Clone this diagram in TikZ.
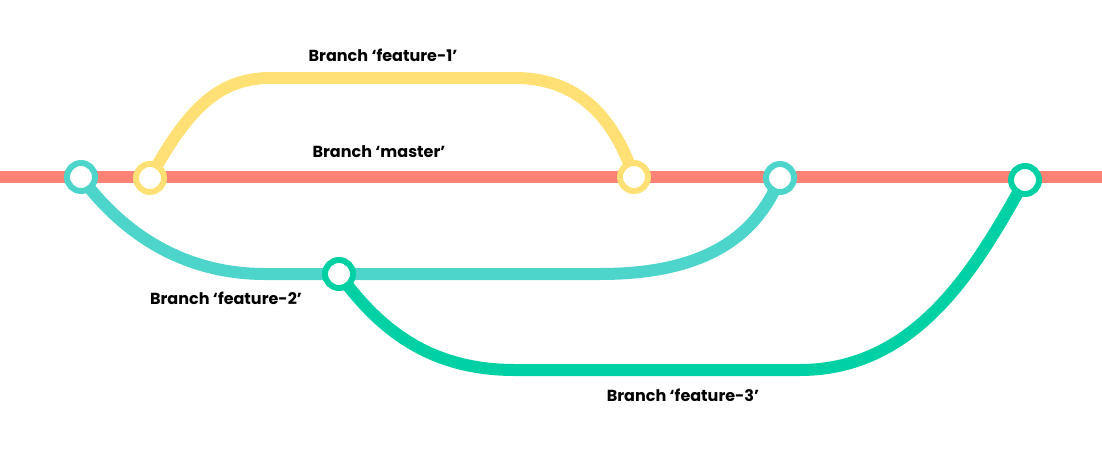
\documentclass[tikz,border=0pt]{standalone}
\usepackage{fontspec}
\setmainfont{Poppins}
\usetikzlibrary{backgrounds}
\definecolor{GitMaster}{HTML}{FC8276}
\definecolor{GitYellow}{HTML}{FFE074}
\definecolor{GitTeal}{HTML}{4DD4CB}
\definecolor{GitGreen}{HTML}{00D1A4}

\begin{document}
\begin{tikzpicture}[
          x=1pt,y=-1pt,
          branch/.style={line width=12pt},
          commit/.style={circle,draw,fill=white,line width=6pt,minimum size=28pt,inner sep=0pt},
          blabel/.style={font=\fontsize{16}{18}\selectfont\bfseries}
        ]
        \path[use as bounding box] (0,0) rectangle (1102,450);
        \coordinate (mstart) at (0,177);
        \coordinate (mend) at (1102,177);

        \node[commit,draw=GitTeal] (c1) at (81,177) {};
        \node[commit,draw=GitYellow] (c2) at (150,178) {};
        \node[commit,draw=GitYellow] (c3) at (634,177) {};
        \node[commit,draw=GitTeal] (c4) at (780,178) {};
        \node[commit,draw=GitGreen] (c5) at (1025,180) {};
        \node[commit,draw=GitGreen] (c6) at (339,274) {};

        \begin{scope}[on background layer]
        \draw[branch,GitMaster] (mstart) -- (mend);
        \draw[branch,GitYellow] (c2.center) .. controls (185,115) and (215,78) .. (270,78)
          -- (515,78) .. controls (580,78) and (615,120) .. (c3.center);
        \draw[branch,GitTeal] (c1.center) .. controls (120,230) and (180,274) .. (265,274)
          -- (600,274) .. controls (700,274) and (755,240) .. (c4.center);
        \draw[branch,GitGreen] (c6.center) .. controls (380,330) and (430,370) .. (515,370)
          -- (800,370) .. controls (920,370) and (980,260) .. (c5.center);
        \end{scope}

        \node[blabel] (lf1) at (383,55) {Branch ‘feature-1’};
        \node[blabel] (lmaster) at (379,152) {Branch ‘master’};
        \node[blabel] (lf2) at (226,298) {Branch ‘feature-2’};
        \node[blabel] (lf3) at (683,395) {Branch ‘feature-3’};
\end{tikzpicture}
\end{document}
